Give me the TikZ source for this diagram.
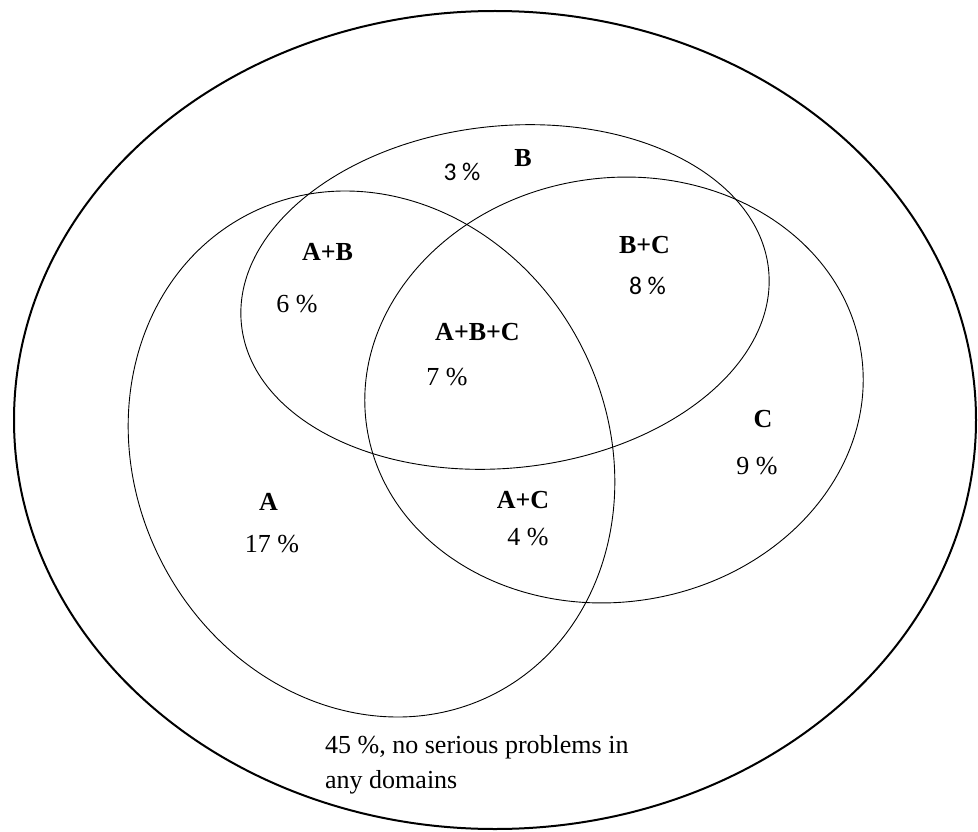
\documentclass[tikz,border=0pt]{standalone}
\usepackage{fontspec}
\setmainfont{Liberation Serif}
\newfontfamily\calib{Carlito}
\begin{document}
\begin{tikzpicture}[x=1pt,y=-1pt,
  venn/.style={draw=black,line width=0.9pt},
  outerset/.style={draw=black,line width=2pt},
  lab/.style={inner sep=0pt,font=\fontsize{26}{31}\selectfont\bfseries},
  pct/.style={inner sep=0pt,font=\fontsize{26}{31}\selectfont},
  spct/.style={inner sep=0pt,font=\fontsize{25.5}{31}\selectfont\calib}]
\useasboundingbox (0,0) rectangle (978,832);
% outer set
\draw[outerset] (495,420) ellipse [x radius=481pt, y radius=409pt];
% A
\draw[venn,rotate around={27:(371.5,454)}] (371.5,454) ellipse [x radius=236pt, y radius=269.5pt];
% B
\draw[venn,rotate around={6:(505,297)}] (505,297) ellipse [x radius=265pt, y radius=171pt];
% C
\draw[venn,rotate around={8.6:(614,390)}] (614,390) ellipse [x radius=250pt, y radius=212pt];
% labels
\node[lab] (lB) at (523,158) {B};
\node[spct] (pB) at (462,172) {3 \%};
\node[lab] (lAB) at (327.5,252) {A+B};
\node[pct] (pAB) at (297,304) {6 \%};
\node[lab] (lABC) at (477.5,332) {A+B+C};
\node[pct] (pABC) at (447,377) {7 \%};
\node[lab] (lBC) at (644.5,245) {B+C};
\node[spct] (pBC) at (647.5,286) {8 \%};
\node[lab] (lC) at (763,419) {C};
\node[pct] (pC) at (757,466) {9 \%};
\node[lab] (lA) at (268.5,502) {A};
\node[pct] (pA) at (272,544) {17 \%};
\node[lab] (lAC) at (523,500) {A+C};
\node[pct] (pAC) at (528,537) {4 \%};
\node[inner sep=0pt,anchor=north west,align=left,font=\fontsize{26}{35}\selectfont] (none) at (325,735) {45 \%, no serious problems in\\any domains};
\end{tikzpicture}
\end{document}
